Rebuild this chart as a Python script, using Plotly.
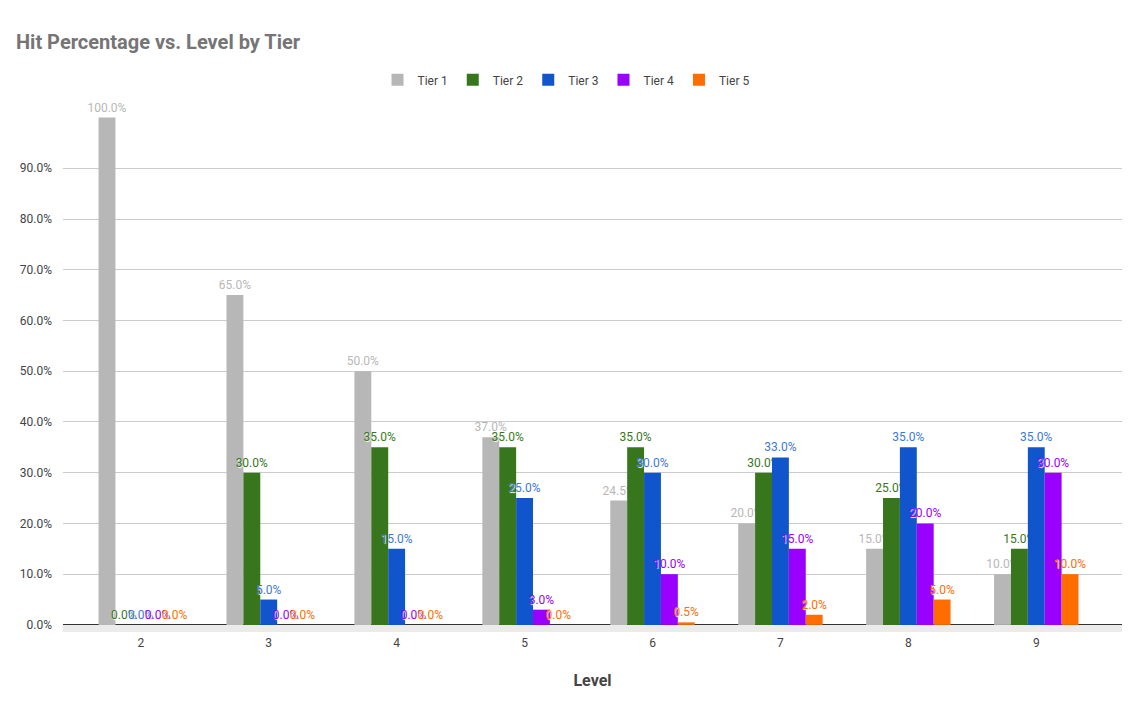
import plotly.graph_objects as go

# Hit percentage by level, one list per tier
levels = ["2", "3", "4", "5", "6", "7", "8", "9"]
tier_1 = [100, 65, 50, 37, 24.5, 20, 15, 10]
tier_2 = [0, 30, 35, 35, 35, 30, 25, 15]
tier_3 = [0, 5, 15, 25, 30, 33, 35, 35]
tier_4 = [0, 0, 0, 3, 10, 15, 20, 30]
tier_5 = [0, 0, 0, 0, 0.5, 2, 5, 10]
y_ticks = [0, 10, 20, 30, 40, 50, 60, 70, 80, 90]

tiers = [
    ("Tier 1", tier_1, "#b7b7b7", "#b7b7b7"),
    ("Tier 2", tier_2, "#38761d", "#38761d"),
    ("Tier 3", tier_3, "#1155cc", "#3c78d8"),
    ("Tier 4", tier_4, "#9900ff", "#9900ff"),
    ("Tier 5", tier_5, "#ff6d01", "#ff6d01"),
]

fig = go.Figure()
for name, vals, color, label_color in tiers:
    fig.add_trace(go.Bar(
        name=name, x=levels, y=vals,
        marker=dict(color=color, line=dict(width=0)),
        text=[f"{v:.1f}%" for v in vals],
        textposition="outside",
        constraintext="none",
        cliponaxis=False,
        textfont=dict(color=label_color, size=12, shadow="1px 1px 1px white"),
    ))

# page body adds an 8px margin, so the figure is sized 8px smaller
fig.update_layout(
    width=1140, height=705,
    barmode="group", bargap=0.34, bargroupgap=0,
    plot_bgcolor="white", paper_bgcolor="white",
    font=dict(family="Roboto", size=12, color="#444444"),
    margin=dict(l=52, r=26, t=107, b=81),
    title=dict(text="<b>Hit Percentage vs. Level by Tier</b>",
               x=0.007, xanchor="left", y=0.952, yanchor="middle",
               font=dict(size=20, color="#757575")),
    legend=dict(orientation="h", x=0.475, xanchor="center", y=1.068,
                yanchor="middle", font=dict(size=12, color="#444444"),
                itemwidth=30, traceorder="normal"),
    showlegend=True,
)

fig.update_yaxes(
    range=[-1.4, 100.5],
    tickvals=y_ticks,
    ticktext=[f"{v:.1f}%" for v in y_ticks],
    showgrid=True, gridcolor="#cccccc", gridwidth=1,
    zeroline=True, zerolinecolor="#333333", zerolinewidth=1,
    ticks="", ticklabelstandoff=10,
)
fig.update_xaxes(
    range=[-0.608, 7.67],
    title=dict(text="<b>Level</b>", font=dict(size=16, color="#444444"),
               standoff=25),
    tickfont=dict(size=12, color="#444444"),
    showgrid=False, ticks="", ticklabelstandoff=2,
)

# light floor strip under the baseline
fig.add_shape(type="rect", xref="paper", yref="y", x0=0, x1=1, y0=-1.4, y1=0,
              fillcolor="#ebebeb", line=dict(width=0), layer="below")

fig.write_html("out.html")
